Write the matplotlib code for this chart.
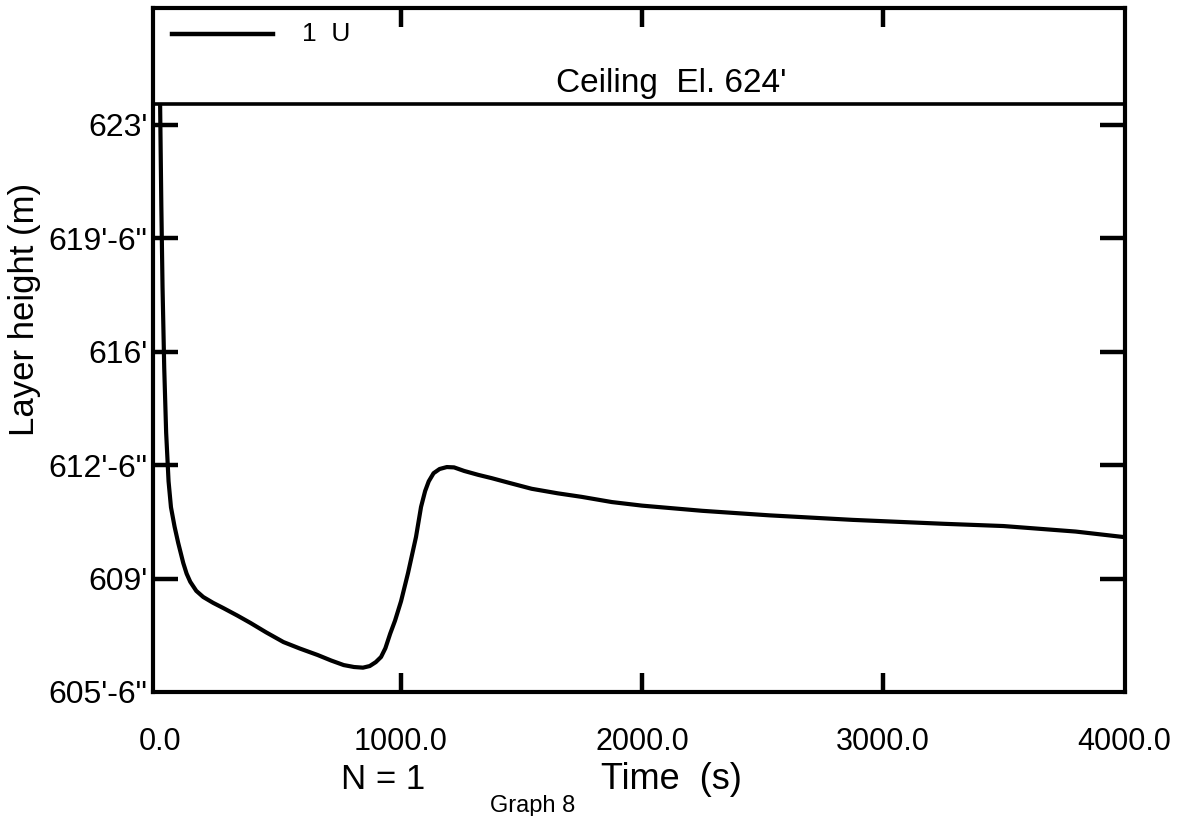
'''
Layer height against time, single unit (Graph 8)
'''

import numpy as np
import matplotlib
matplotlib.use('Agg')
import matplotlib.pyplot as plt


# data
time_s = [0, 5, 10, 17, 25, 35, 45, 60, 75, 96, 110, 125, 150, 179, 220,
          262, 320, 375, 440, 512, 580, 654, 710, 762, 805, 842, 870, 895,
          917, 935, 955, 975, 1000, 1029, 1062, 1083, 1100, 1115, 1135, 1160,
          1190, 1220, 1262, 1320, 1375, 1450, 1542, 1650, 1750, 1875, 2000,
          2250, 2529, 2875, 3250, 3500, 3800, 4000]
height_ft = [623.6, 620.5, 618.0, 615.5, 613.5, 612.0, 611.2, 610.6, 610.1,
             609.48, 609.15, 608.90, 608.62, 608.43, 608.25, 608.09, 607.86,
             607.63, 607.34, 607.04, 606.84, 606.64, 606.47, 606.33, 606.27,
             606.25, 606.30, 606.42, 606.58, 606.85, 607.30, 607.70, 608.30,
             609.17, 610.28, 611.21, 611.70, 612.00, 612.25, 612.38, 612.44,
             612.43, 612.32, 612.20, 612.10, 611.95, 611.77, 611.63, 611.52,
             611.36, 611.25, 611.09, 610.95, 610.81, 610.69, 610.62, 610.45,
             610.28]

x_ticks = [0, 1000, 2000, 3000, 4000]
x_labels = ['0.0', '1000.0', '2000.0', '3000.0', '4000.0']
y_ticks = [605.5, 609.0, 612.5, 616.0, 619.5, 623.0]
y_labels = ['605\'-6"', "609'", '612\'-6"', "616'", '619\'-6"', "623'"]
ceiling_el = 623.65   # where the ceiling line is drawn
ceiling_text = "Ceiling  El. 624'"


plt.rcParams['font.family'] = ['Liberation Sans', 'DejaVu Sans']

fig = plt.figure(figsize=(11.78, 8.16), dpi=100)
ax = fig.add_axes([0.130, 0.152, 0.825, 0.838])

ax.plot(time_s, height_ft, color='black', lw=3.0, solid_capstyle='round',
        solid_joinstyle='round')
ax.axhline(ceiling_el, color='black', lw=2.6)
ax.text(2120, ceiling_el + 0.15, ceiling_text, ha='center', va='bottom',
        fontsize=24)

# legend drawn by hand like the original
ax.plot([50, 470], [625.8, 625.8], color='black', lw=3.2)
ax.text(590, 625.8, '1  U', ha='left', va='center', fontsize=19)

ax.set_xlim(-29, 4005)
ax.set_ylim(605.5, 626.6)

ax.set_xticks(x_ticks)
ax.set_xticklabels(x_labels, fontsize=22)
ax.set_yticks(y_ticks)
ax.set_yticklabels(y_labels, fontsize=23)
ax.tick_params(axis='x', direction='in', length=14, width=3.2,
               top=True, pad=25)
ax.tick_params(axis='y', direction='in', length=18, width=3.2,
               right=True, pad=4)

# no tick marks where the ticks sit on the frame
for t in (ax.xaxis.get_major_ticks()[0], ax.xaxis.get_major_ticks()[-1],
          ax.yaxis.get_major_ticks()[0]):
  t.tick1line.set_visible(False)
  t.tick2line.set_visible(False)

for s in ax.spines.values():
  s.set_linewidth(3.0)

ax.set_ylabel('Layer height (m)', fontsize=25)
ax.yaxis.set_label_coords(-0.115, 0.56)

fig.text(0.570, 0.045, 'Time  (s)', ha='center', va='center', fontsize=26)
fig.text(0.325, 0.045, 'N = 1', ha='center', va='center', fontsize=25)
fig.text(0.452, 0.012, 'Graph 8', ha='center', va='center', fontsize=17)

fig.savefig('out.png', dpi=100)
plt.close()
